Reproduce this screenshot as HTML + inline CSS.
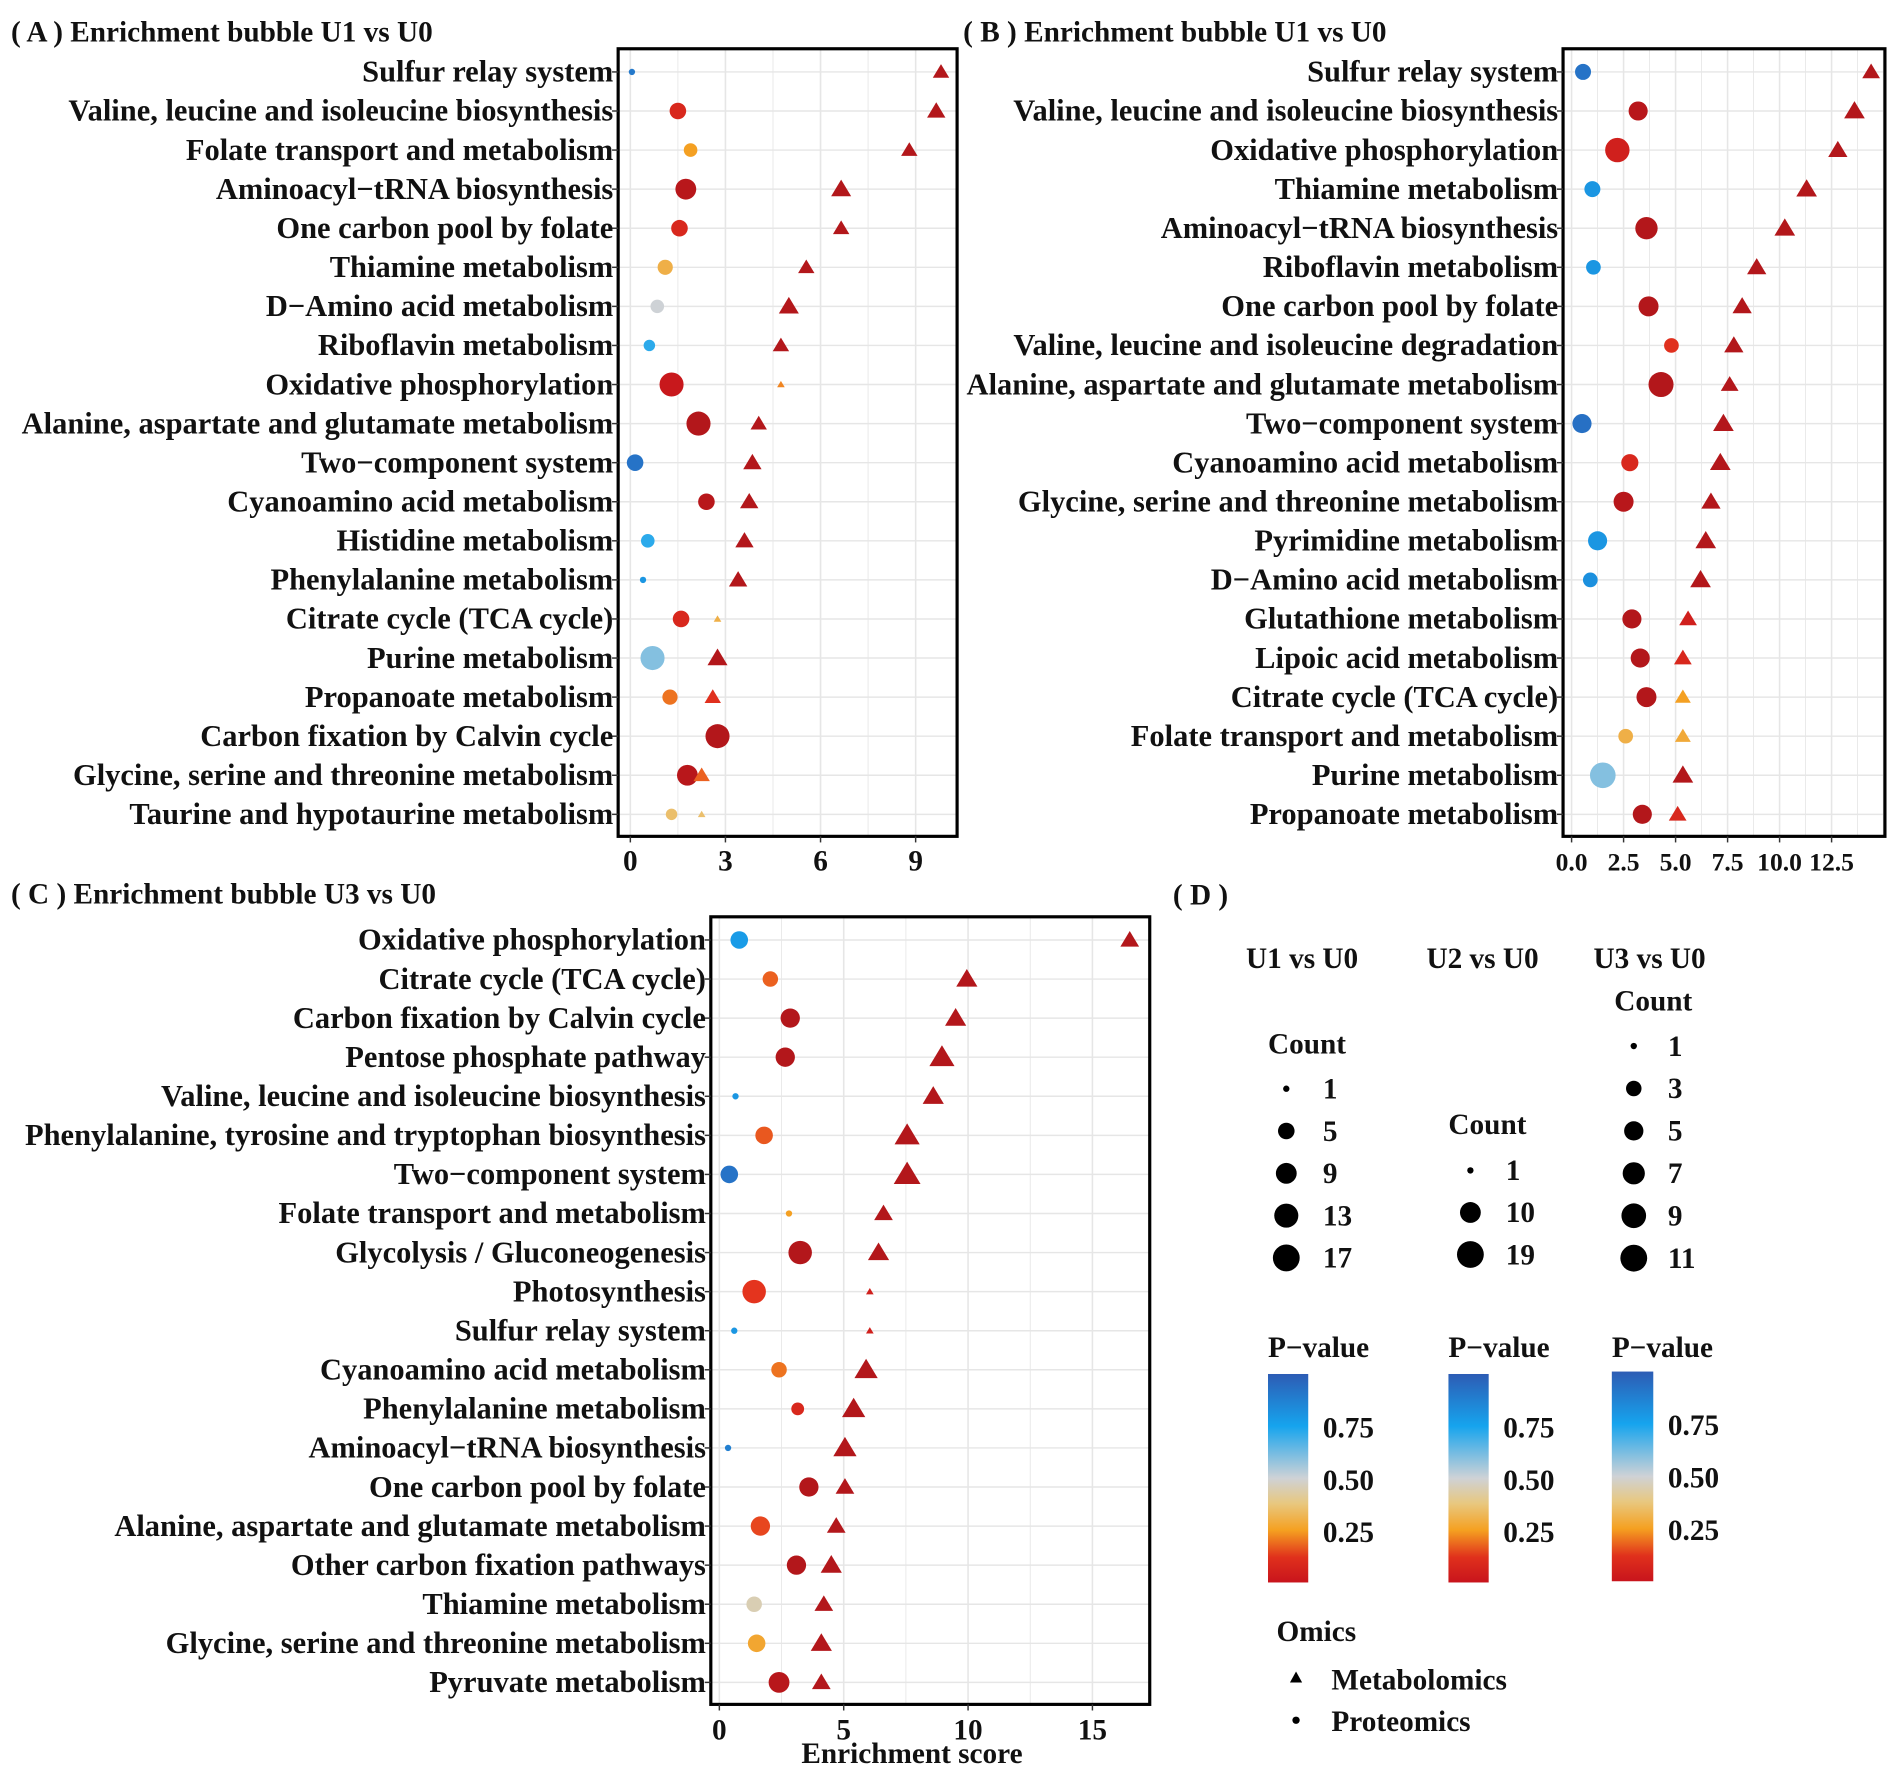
<!DOCTYPE html>
<html><head><meta charset="utf-8"><style>
html,body{margin:0;padding:0;background:#fff}
svg{display:block}
text{font-family:"Liberation Serif",serif;font-weight:bold;fill:#111}
</style></head><body>
<svg id="fig" width="1902" height="1769" viewBox="0 0 1560 1451" preserveAspectRatio="none" xmlns="http://www.w3.org/2000/svg">
<defs>
<linearGradient id="pg" x1="0" y1="1" x2="0" y2="0">
<stop offset="0" stop-color="#c8141c"/><stop offset="0.12" stop-color="#e0301c"/>
<stop offset="0.25" stop-color="#f5a020"/><stop offset="0.38" stop-color="#e8c880"/>
<stop offset="0.5" stop-color="#cfd2d6"/><stop offset="0.75" stop-color="#16a4ee"/>
<stop offset="1" stop-color="#2d5cb4"/></linearGradient>
</defs>
<g id="legend">
<text x="962" y="742" font-size="24">( D )</text>
<text x="1022" y="794" font-size="24">U1 vs U0</text>
<text x="1170" y="794" font-size="24">U2 vs  U0</text>
<text x="1307" y="794" font-size="24">U3 vs U0</text>
<text x="1040" y="864" font-size="24">Count</text>
<text x="1188" y="930" font-size="24">Count</text>
<text x="1324" y="829" font-size="24">Count</text>
<text x="1040" y="1113" font-size="24">P−value</text>
<text x="1188" y="1113" font-size="24">P−value</text>
<text x="1322" y="1113" font-size="24">P−value</text>
<rect x="1040" y="1127" width="33" height="171" fill="url(#pg)"/>
<rect x="1188" y="1127" width="33" height="171" fill="url(#pg)"/>
<rect x="1322" y="1125" width="34" height="172" fill="url(#pg)"/>
<g font-size="24">
<text x="1085" y="1179">0.75</text><text x="1085" y="1222">0.50</text><text x="1085" y="1265">0.25</text>
<text x="1233" y="1179">0.75</text><text x="1233" y="1222">0.50</text><text x="1233" y="1265">0.25</text>
<text x="1368" y="1177">0.75</text><text x="1368" y="1220">0.50</text><text x="1368" y="1263">0.25</text>
</g>
<text x="1047" y="1346" font-size="24">Omics</text>
<polygon points="1063,1371 1068,1380 1058,1380" fill="#000"/>
<text x="1092" y="1386" font-size="24">Metabolomics</text>
<circle cx="1063" cy="1411" r="3" fill="#000"/>
<text x="1092" y="1420" font-size="24">Proteomics</text>
</g>
</svg>
<script>
// ---------- data ----------
const catsA=["Sulfur relay system","Valine, leucine and isoleucine biosynthesis","Folate transport and metabolism","Aminoacyl−tRNA biosynthesis","One carbon pool by folate","Thiamine metabolism","D−Amino acid metabolism","Riboflavin metabolism","Oxidative phosphorylation","Alanine, aspartate and glutamate metabolism","Two−component system","Cyanoamino acid metabolism","Histidine metabolism","Phenylalanine metabolism","Citrate cycle (TCA cycle)","Purine metabolism","Propanoate metabolism","Carbon fixation by Calvin cycle","Glycine, serine and threonine metabolism","Taurine and hypotaurine metabolism"];
const protXA=[0.05,1.5,1.9,1.75,1.55,1.1,0.85,0.6,1.3,2.15,0.15,2.4,0.55,0.4,1.6,0.7,1.25,2.75,1.8,1.3];
const protNA=[1,5,3,9,5,4,3,2,13,13,5,5,3,1,5,13,4,13,9,2];
const protPA=[0.9,0.1,0.25,0.03,0.1,0.3,0.5,0.72,0.06,0.02,0.92,0.03,0.72,0.8,0.1,0.6,0.2,0.02,0.03,0.35];
const metXA=[9.8,9.65,8.8,6.65,6.65,5.55,5.0,4.75,4.75,4.05,3.85,3.75,3.6,3.4,2.75,2.75,2.6,null,2.25,2.25];
const metNA=[3,4,3,5,3,3,5,3,1,3,4,4,4,4,1,5,3,null,3,1];
const metPA=[0.02,0.02,0.02,0.02,0.02,0.02,0.02,0.02,0.22,0.02,0.02,0.02,0.02,0.02,0.3,0.02,0.12,null,0.18,0.35];
const ticksA=[0,3,6,9];

const catsB=["Sulfur relay system","Valine, leucine and isoleucine biosynthesis","Oxidative phosphorylation","Thiamine metabolism","Aminoacyl−tRNA biosynthesis","Riboflavin metabolism","One carbon pool by folate","Valine, leucine and isoleucine degradation","Alanine, aspartate and glutamate metabolism","Two−component system","Cyanoamino acid metabolism","Glycine, serine and threonine metabolism","Pyrimidine metabolism","D−Amino acid metabolism","Glutathione metabolism","Lipoic acid metabolism","Citrate cycle (TCA cycle)","Folate transport and metabolism","Purine metabolism","Propanoate metabolism"];
const protXB=[0.55,3.2,2.2,1.0,3.6,1.05,3.7,4.8,4.3,0.5,2.8,2.5,1.25,0.9,2.9,3.3,3.6,2.6,1.5,3.4];
const protNB=[5,8,15,5,12,4,9,4,16,8,6,9,8,4,8,8,9,4,17,8];
const protPB=[0.92,0.03,0.08,0.8,0.02,0.8,0.02,0.12,0.02,0.93,0.1,0.03,0.8,0.82,0.02,0.02,0.02,0.3,0.6,0.02];
const metXB=[14.4,13.6,12.8,11.3,10.25,8.9,8.2,7.8,7.6,7.3,7.15,6.7,6.45,6.2,5.6,5.35,5.35,5.35,5.35,5.1];
const metNB=[4,6,5,6,6,5,5,5,4,6,6,5,6,6,4,4,3,3,6,4];
const metPB=[0.02,0.02,0.02,0.02,0.02,0.02,0.02,0.02,0.02,0.02,0.02,0.02,0.02,0.02,0.08,0.1,0.25,0.28,0.02,0.1];
const ticksB=[0,2.5,5,7.5,10,12.5];

const catsC=["Oxidative phosphorylation","Citrate cycle (TCA cycle)","Carbon fixation by Calvin cycle","Pentose phosphate pathway","Valine, leucine and isoleucine biosynthesis","Phenylalanine, tyrosine and tryptophan biosynthesis","Two−component system","Folate transport and metabolism","Glycolysis / Gluconeogenesis","Photosynthesis","Sulfur relay system","Cyanoamino acid metabolism","Phenylalanine metabolism","Aminoacyl−tRNA biosynthesis","One carbon pool by folate","Alanine, aspartate and glutamate metabolism","Other carbon fixation pathways","Thiamine metabolism","Glycine, serine and threonine metabolism","Pyruvate metabolism"];
const protXC=[0.8,2.05,2.85,2.65,0.65,1.8,0.4,2.8,3.25,1.4,0.6,2.4,3.15,0.35,3.6,1.65,3.1,1.4,1.5,2.4];
const protNC=[4,3,5,5,1,4,4,1,8,8,1,3,2,1,5,5,5,3,4,6];
const protPC=[0.78,0.18,0.02,0.02,0.8,0.17,0.92,0.25,0.02,0.13,0.8,0.2,0.1,0.88,0.02,0.15,0.02,0.45,0.27,0.03];
const metXC=[16.5,9.95,9.5,8.95,8.6,7.55,7.55,6.6,6.4,6.05,6.05,5.9,5.4,5.05,5.05,4.7,4.5,4.2,4.1,4.1];
const metNC=[3,4,4,6,4,6,7,3,4,1,1,5,5,5,3,3,4,3,4,3];
const metPC=[0.02,0.02,0.02,0.02,0.02,0.02,0.02,0.02,0.02,0.08,0.08,0.02,0.02,0.02,0.02,0.02,0.02,0.02,0.02,0.02];
const ticksC=[0,5,10,15];

const legNA=[1,5,9,13,17], legNB=[1,10,19], legNC=[1,3,5,7,9,11];

// ---------- drawing ----------
const NS="http://www.w3.org/2000/svg";
const svg=document.getElementById('fig');
function mk(tag,attrs,parent){const e=document.createElementNS(NS,tag);for(const k in attrs)e.setAttribute(k,attrs[k]);(parent||svg).appendChild(e);return e;}
const stops=[[0,[168,22,26]],[0.06,[200,24,28]],[0.13,[228,52,30]],[0.25,[244,160,34]],[0.38,[232,200,130]],[0.5,[206,210,214]],[0.75,[22,164,238]],[1,[45,92,180]]];
function pcol(p){for(let i=1;i<stops.length;i++){if(p<=stops[i][0]){const a=stops[i-1],b=stops[i];const t=(p-a[0])/(b[0]-a[0]);const c=a[1].map((v,j)=>Math.round(v+(b[1][j]-v)*t));return `rgb(${c})`;}}return 'rgb(45,92,180)';}
function rad(n,max){return 2.6+8.4*Math.sqrt((n-1)/(max-1));}

function panel(o){
  const g=mk('g',{});
  
  
  const xs=v=>o.x0+v*o.k, ys=i=>o.yTop+i*o.step;
  const minorStep=(o.ticks[1]-o.ticks[0])/2;
  for(let v=0; xs(v)<o.bx2; v+=minorStep){
    mk('line',{x1:xs(v),x2:xs(v),y1:o.by1,y2:o.by2,stroke:'#e6e6e6','stroke-width':Math.abs((v/minorStep)%2)<1e-6?1.3:0.7},g);
  }
  o.cats.forEach((c,i)=>mk('line',{x1:o.bx1,x2:o.bx2,y1:ys(i),y2:ys(i),stroke:'#e6e6e6','stroke-width':1.2},g));
  o.cats.forEach((c,i)=>{
    const cc=mk('circle',{cx:xs(o.px[i]),cy:ys(i),r:rad(o.pn[i],o.max),fill:pcol(o.pp[i])},g);
    
    
    if(o.mx[i]!=null){
      const r=rad(o.mn[i],o.max)*1.15, x=xs(o.mx[i]), y=ys(i);
      const t=mk('polygon',{points:`${x},${y-r} ${x+r*1.05},${y+r*0.75} ${x-r*1.05},${y+r*0.75}`,fill:pcol(o.mp[i])},g);
      
      
    }
  });
  mk('rect',{x:o.bx1,y:o.by1,width:o.bx2-o.bx1,height:o.by2-o.by1,fill:'none',stroke:'#000','stroke-width':2.6},g);
  o.cats.forEach((c,i)=>{
    mk('line',{x1:o.bx1-5,x2:o.bx1,y1:ys(i),y2:ys(i),stroke:'#333','stroke-width':1.2},g);
    const t=mk('text',{x:o.bx1-4,y:ys(i)+8,'font-size':25,'text-anchor':'end'},g);
    t.textContent=c;
    
    
  });
  o.ticks.forEach(v=>{
    mk('line',{x1:xs(v),x2:xs(v),y1:o.by2,y2:o.by2+5,stroke:'#333','stroke-width':1.2},g);
    const t=mk('text',{x:xs(v),y:o.tickY,'font-size':o.dec?21:24,'text-anchor':'middle'},g);
    t.textContent=o.dec?v.toFixed(1):v;
    
    
  });
  const tt=mk('text',{x:o.tx,y:o.ty,'font-size':24},g);
  tt.textContent=o.title;
  
  
}
panel({name:'panel-a',title:'( A ) Enrichment bubble  U1 vs U0',tx:9,ty:34,cats:catsA,px:protXA,pn:protNA,pp:protPA,mx:metXA,mn:metNA,mp:metPA,ticks:ticksA,max:17,
 x0:517,k:26,yTop:59,step:32.05,bx1:507,bx2:785,by1:40,by2:686,tickY:714});
panel({name:'panel-b',title:'( B )  Enrichment bubble  U1 vs U0',tx:790,ty:34,cats:catsB,px:protXB,pn:protNB,pp:protPB,mx:metXB,mn:metNB,mp:metPB,ticks:ticksB,max:19,dec:true,
 x0:1289,k:17.06,yTop:59,step:32.05,bx1:1282,bx2:1546,by1:40,by2:686,tickY:714});
panel({name:'panel-c',title:'( C ) Enrichment bubble  U3 vs U0',tx:9,ty:741,cats:catsC,px:protXC,pn:protNC,pp:protPC,mx:metXC,mn:metNC,mp:metPC,ticks:ticksC,max:11,
 x0:590,k:20.4,yTop:771,step:32.05,bx1:583,bx2:943,by1:752,by2:1398,tickY:1427});
const xt=mk('text',{x:748,y:1446,'font-size':24,'text-anchor':'middle'});
xt.textContent='Enrichment score';


function sizeLeg(vals,max,dx,lx,y0,step,name){
  vals.forEach((v,i)=>{
    const c=mk('circle',{cx:dx,cy:y0+i*step,r:rad(v,max),fill:'#000'});
    
    
    const t=mk('text',{x:lx,y:y0+i*step+8,'font-size':24});
    t.textContent=v;
    
    
  });
}
sizeLeg(legNA,17,1055,1085,893,34.7,'count-u1');
sizeLeg(legNB,19,1206,1235,960,34.5,'count-u2');
sizeLeg(legNC,11,1340,1368,858,34.8,'count-u3');
</script>
</body></html>
